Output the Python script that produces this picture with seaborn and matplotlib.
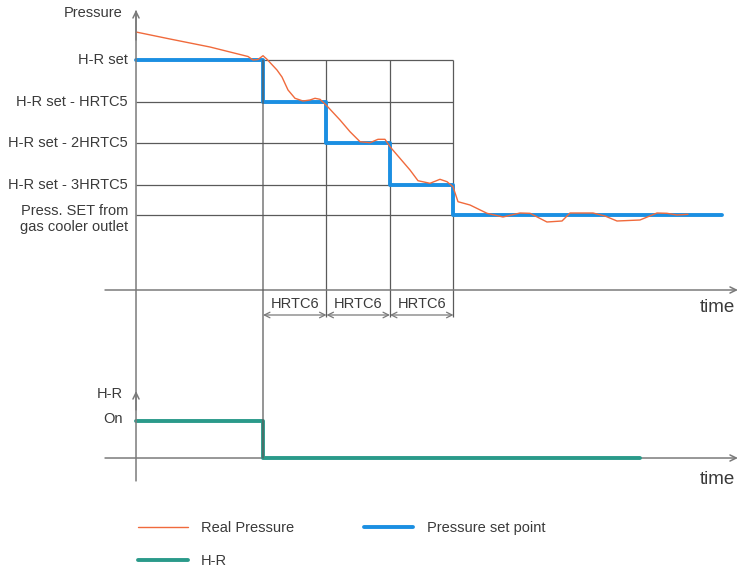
import matplotlib
matplotlib.use("Agg")
import matplotlib.pyplot as plt
from matplotlib.patches import ConnectionPatch
import seaborn as sns

sns.set_style("white")
plt.rcParams["font.family"] = ["Liberation Sans", "DejaVu Sans"]

# Pressure levels of the heat-recovery ramp (arbitrary pressure units)
level_names = ["H-R set", "H-R set - HRTC5", "H-R set - 2HRTC5",
               "H-R set - 3HRTC5", "Press. SET from\ngas cooler outlet"]
level_values = [230, 188, 147, 105, 75]

# Pressure set point (time in HRTC6 units)
setpoint_time = [0, 2, 3, 4, 5, 9.23]
setpoint_value = [230, 188, 147, 105, 75, 75]

# Measured (real) pressure
real_time = [0.0, 0.535, 1.165, 1.764, 1.843, 1.921, 2.0, 2.063, 2.22, 2.299,
             2.394, 2.504, 2.63, 2.74, 2.819, 2.898, 3.008, 3.213, 3.37, 3.528,
             3.685, 3.811, 3.921, 4.0, 4.157, 4.315, 4.441, 4.63, 4.787, 4.898,
             4.992, 5.071, 5.26, 5.528, 5.78, 6.047, 6.205, 6.472, 6.709, 6.835,
             7.197, 7.386, 7.575, 7.937, 8.205, 8.362, 8.52, 8.693]
real_value = [258, 251, 243, 233.5, 230, 230.5, 234.3, 230.7, 220, 213,
              200, 191.7, 189, 190, 191.7, 190.7, 184, 170, 158.3, 148.3,
              147.3, 150.7, 150.7, 143.3, 131.7, 120, 109.3, 106.7, 110.7, 108.3,
              103.3, 88.3, 85, 76.7, 73, 77, 76.7, 68, 69, 77,
              77, 74, 69, 70, 77, 76.7, 75, 75.7]

# Heat-recovery state (1 = On, 0 = Off)
hr_time = [0, 2, 7.94]
hr_value = [1, 0, 0]

# HRTC6 intervals
hrtc6_start = [2, 3, 4]
hrtc6_end = [3, 4, 5]
hrtc6_label = "HRTC6"

BLUE = "#1b8fe2"
ORANGE = "#f06a3c"
TEAL = "#2a9a8a"
GRID = "#5a5a5a"
AXIS = "#7a7a7a"
TEXT = "#3a3a3a"
FS = 10.5

fig = plt.figure(figsize=(7.41, 5.69), dpi=100)
ax_p = fig.add_axes([0, 209 / 569, 1, 360 / 569])
ax_h = fig.add_axes([0, 0, 1, 209 / 569])
xlim = (-2.142, 9.528)
for ax in (ax_p, ax_h):
    ax.set_axis_off()
    ax.set_xlim(*xlim)
ax_p.set_ylim(-70, 290)
ax_h.set_ylim(-3.0, 2.649)

arrow_kw = dict(arrowstyle="->,head_length=0.45,head_width=0.22",
                color=AXIS, lw=1.1, shrinkA=0, shrinkB=0)

# --- lines that run through both panels ----------------------------------
# shared vertical time axis and the H-R switch-off marker
fig.add_artist(ConnectionPatch(xyA=(0, 279), coordsA=ax_p.transData,
                               xyB=(0, -0.62), coordsB=ax_h.transData,
                               color=AXIS, lw=1.1, zorder=1))
fig.add_artist(ConnectionPatch(xyA=(hrtc6_start[0], level_values[0]),
                               coordsA=ax_p.transData,
                               xyB=(hrtc6_start[0], 0), coordsB=ax_h.transData,
                               color=GRID, lw=0.9, zorder=1))

# --- pressure panel -------------------------------------------------------
ax_p.hlines(level_values, 0, 5, color=GRID, lw=0.9, zorder=1)
ax_p.vlines(hrtc6_end, -27, level_values[0], color=GRID, lw=0.9, zorder=1)

ax_p.annotate("", xy=(0, 280), xytext=(0, 250), arrowprops=arrow_kw)
ax_p.annotate("", xy=(9.48, 0), xytext=(-0.488, 0), arrowprops=arrow_kw)

sns.lineplot(x=setpoint_time, y=setpoint_value, ax=ax_p, drawstyle="steps-post",
             color=BLUE, lw=2.8, estimator=None, sort=False,
             label="Pressure set point", zorder=3)
sns.lineplot(x=real_time, y=real_value, ax=ax_p, color=ORANGE, lw=1.0,
             estimator=None, sort=False, label="Real Pressure", zorder=4)

for name, val in zip(level_names, level_values):
    y = val if "\n" not in name else val - 4
    ax_p.text(-0.126, y, name, ha="right", va="center", multialignment="right",
              fontsize=FS, color=TEXT, linespacing=1.25)
ax_p.text(-0.22, 277, "Pressure", ha="right", va="center", fontsize=FS, color=TEXT)
ax_p.text(9.15, -18, "time", ha="center", va="center", fontsize=13.5, color=TEXT)

for a, b in zip(hrtc6_start, hrtc6_end):
    ax_p.annotate("", xy=(a, -25), xytext=(b, -25),
                  arrowprops=dict(arrowstyle="<->,head_length=0.4,head_width=0.2",
                                  color=AXIS, lw=0.9, shrinkA=0, shrinkB=0))
    ax_p.text((a + b) / 2, -14, hrtc6_label, ha="center", va="center",
              fontsize=FS, color=TEXT)

# --- heat-recovery panel ---------------------------------------------------
ax_h.annotate("", xy=(0, 1.81), xytext=(0, 1.3), arrowprops=arrow_kw)
ax_h.annotate("", xy=(9.48, 0), xytext=(-0.488, 0), arrowprops=arrow_kw)

sns.lineplot(x=hr_time, y=hr_value, ax=ax_h, drawstyle="steps-post",
             color=TEAL, lw=2.8, estimator=None, sort=False, label="H-R", zorder=3)

ax_h.text(-0.205, 1.73, "H-R", ha="right", va="center", fontsize=FS, color=TEXT)
ax_h.text(-0.205, 1.05, "On", ha="right", va="center", fontsize=FS, color=TEXT)
ax_h.text(9.15, -0.57, "time", ha="center", va="center", fontsize=13.5, color=TEXT)

# --- legend ------------------------------------------------------------------
hp, lp = ax_p.get_legend_handles_labels()
hh, lh = ax_h.get_legend_handles_labels()
for ax in (ax_p, ax_h):
    if ax.get_legend() is not None:
        ax.get_legend().remove()
lookup = dict(zip(lp + lh, hp + hh))
order = ["Real Pressure", "H-R", "Pressure set point"]
leg = fig.legend([lookup[k] for k in order], order, loc="upper left",
                 bbox_to_anchor=(138 / 741, 1 - 521 / 569), ncol=2, frameon=False,
                 fontsize=FS, handlelength=3.4, handletextpad=0.9,
                 columnspacing=4.8, labelspacing=1.33, borderpad=0, borderaxespad=0)
for t in leg.get_texts():
    t.set_color(TEXT)

fig.savefig("out.png", dpi=100)
